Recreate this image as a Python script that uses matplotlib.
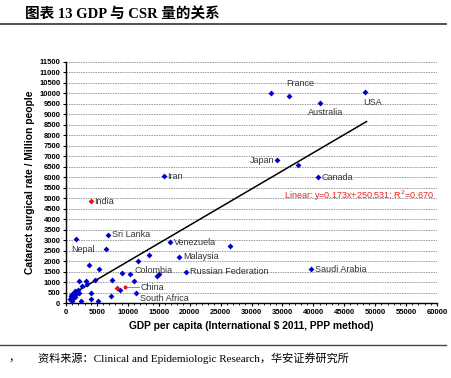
import matplotlib
matplotlib.use("Agg")
import matplotlib.pyplot as plt
import numpy as np
from matplotlib.ticker import MultipleLocator

# ---- data ----
blue_gdp = [33100, 36000, 48300, 41000, 34200, 37500, 40800, 15900, 1600, 6800,
            6500, 16800, 26500, 18300, 19400, 13500, 11600, 15000, 14700, 10300,
            9000, 11000, 7500, 11300, 7200, 8700, 39600, 3800, 5400, 4700,
            3300, 2100, 2600, 3400, 4000, 4000, 2500, 5200, 2000, 2100,
            700, 800, 900, 1000, 1100, 1200, 1300, 1500, 1700, 800, 1000, 1400]
blue_csr = [10000, 9900, 10050, 9550, 6800, 6600, 6000, 6050, 3050, 3250,
            2600, 2900, 2700, 2200, 1500, 2300, 2000, 1400, 1300, 1400,
            1450, 1050, 1100, 480, 350, 600, 1600, 1800, 1600, 1080,
            1050, 1050, 830, 890, 500, 190, 110, 80, 600, 460,
            200, 350, 280, 420, 250, 380, 500, 300, 450, 150, 100, 550]
red_gdp = [4000, 8300]
red_csr = [4850, 700]

slope, intercept = 0.173, 250.531
fit_x = [700, 48600]

# labels: (name, x, y, ha, va)
labels = [
    ("France", 35700, 10250, "left", "bottom"),
    ("USA", 48000, 9800, "left", "top"),
    ("Australia", 39200, 9300, "left", "top"),
    ("Japan", 33700, 6800, "right", "center"),
    ("Canada", 41400, 6000, "left", "center"),
    ("Iran", 16400, 6050, "left", "center"),
    ("India", 4500, 4850, "left", "center"),
    ("Sri Lanka", 7400, 3250, "left", "center"),
    ("Nepal", 900, 2750, "left", "top"),
    ("Venezuela", 17400, 2900, "left", "center"),
    ("Malaysia", 18900, 2200, "left", "center"),
    ("Russian Federation", 20000, 1500, "left", "center"),
    ("Colombia", 11100, 1550, "left", "center"),
    ("China", 12000, 750, "left", "center"),
    ("South Africa", 12000, 230, "left", "center"),
    ("Saudi Arabia", 40200, 1600, "left", "center"),
]

fig = plt.figure(figsize=(4.51, 3.78), dpi=100)
ax = fig.add_axes([0.1463, 0.1984, 0.8227, 0.6376])

ax.set_xlim(0, 60000)
ax.set_ylim(0, 11500)

for yv in np.arange(500, 11501, 500):
    ax.axhline(yv, color="#999999", lw=0.7, ls=(0, (1.5, 1)), zorder=0)

ax.plot(fit_x, [slope * v + intercept for v in fit_x], color="black", lw=1.1, zorder=2)
ax.scatter(blue_gdp, blue_csr, marker="D", s=9, color="#0000CC", zorder=3, linewidths=0)
ax.scatter(red_gdp, red_csr, marker="D", s=9, color="#EE1111", zorder=3, linewidths=0)
ax.plot([9500, 11800], [760, 760], color="#EE6666", lw=0.7, zorder=2)
ax.plot([9500], [760], marker="o", ms=1.8, color="#EE1111", zorder=3)

for name, x, y, ha, va in labels:
    ax.text(x, y, name, ha=ha, va=va, fontsize=6.5, color="#333333",
            family="Liberation Sans")

ax.text(59500, 5100, "Linear: y=0.173x+250.531; R$^2$=0.670", ha="right", va="center",
        fontsize=6.5, color="#EE2222", family="Liberation Sans")

for s in ["top", "right"]:
    ax.spines[s].set_visible(False)
ax.spines["left"].set_linewidth(1.0)
ax.spines["bottom"].set_linewidth(1.0)

ax.xaxis.set_major_locator(MultipleLocator(5000))
ax.xaxis.set_minor_locator(MultipleLocator(1000))
ax.yaxis.set_major_locator(MultipleLocator(500))
ax.tick_params(axis="both", which="major", labelsize=5.5, length=2.5, width=0.8, pad=1.5)
ax.tick_params(axis="x", which="minor", length=1.5, width=0.6)
for lab in ax.get_xticklabels() + ax.get_yticklabels():
    lab.set_fontweight("bold")
    lab.set_family("Liberation Sans")

ax.set_xlabel("GDP per capita (International $ 2011, PPP method)", fontsize=7.4,
              fontweight="bold", family="Liberation Sans", labelpad=4)
ax.set_ylabel("Cataract surgical rate / Million people", fontsize=7.4,
              fontweight="bold", family="Liberation Sans", labelpad=3)

# title and frame lines
fig.text(25 / 451, 1 - 15 / 378, "图表 13 GDP 与 CSR 量的关系", fontsize=10.5,
         fontweight="bold", family=["Liberation Serif", "Noto Sans CJK SC"],
         ha="left", va="center")
fig.add_artist(plt.Line2D([0, 446 / 451], [1 - 24 / 378] * 2, color="#444444", lw=1.3))
fig.add_artist(plt.Line2D([0, 446 / 451], [1 - 345 / 378] * 2, color="#444444", lw=1.0))
fig.text(8 / 451, 1 - 358 / 378, "，", fontsize=8, family=["Noto Sans CJK SC"],
         ha="left", va="center")
fig.text(38 / 451, 1 - 358 / 378,
         "资料来源：Clinical and Epidemiologic Research，华安证券研究所",
         fontsize=8, family=["Liberation Serif", "Noto Sans CJK SC"],
         ha="left", va="center")

fig.savefig("out.png", dpi=100)
